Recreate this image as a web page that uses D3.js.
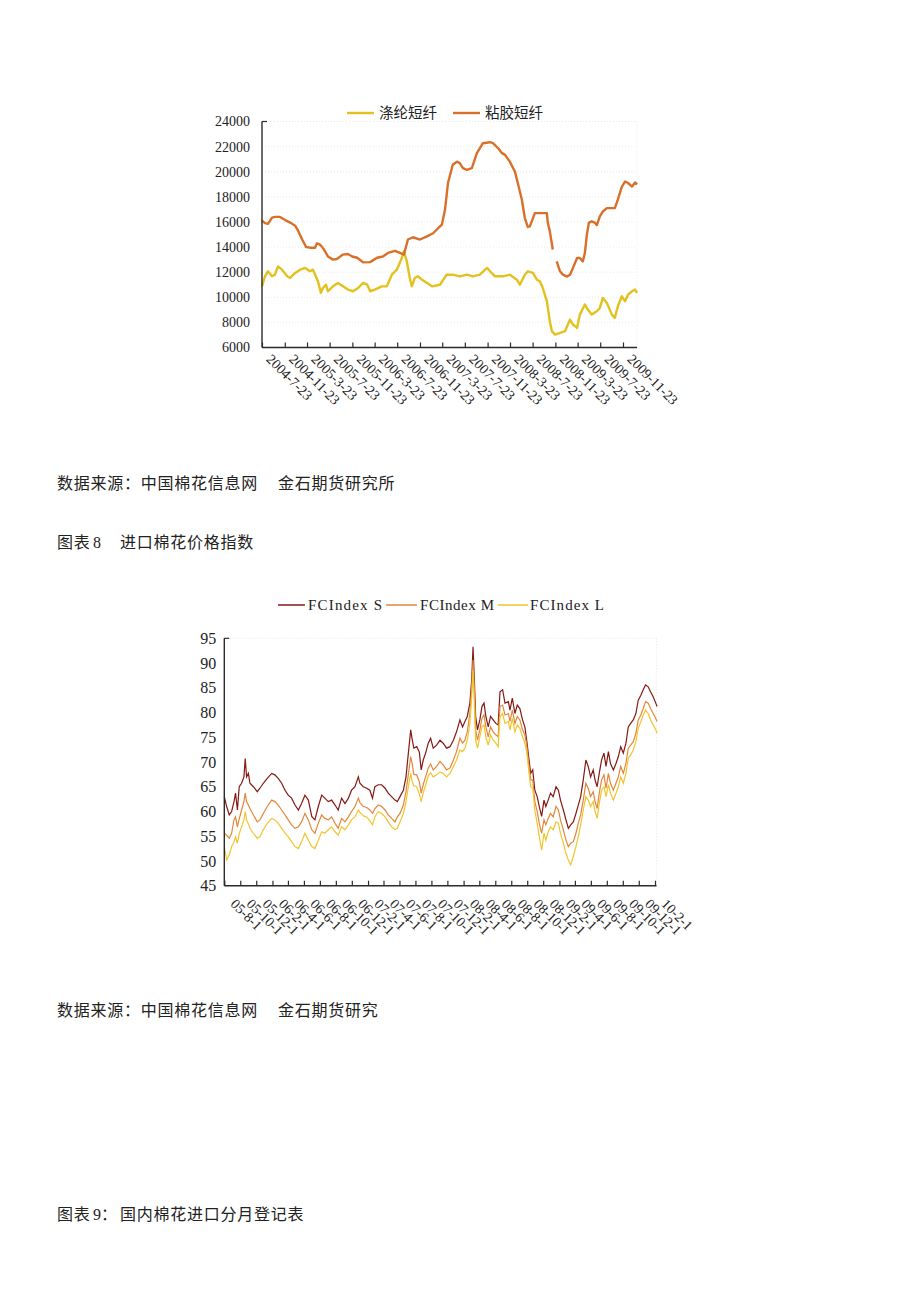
<!DOCTYPE html>
<html><head><meta charset="utf-8">
<script src="https://cdn.jsdelivr.net/npm/d3@7"></script>
<style>body{margin:0;background:#fff;} svg{display:block}</style>
</head><body>
<svg id="c" width="920" height="1302"></svg>
<script>
// ---------- Chart 1 data: 涤纶短纤 / 粘胶短纤 ----------
const fiberSeriesNames = ["涤纶短纤", "粘胶短纤"];
const fiberYTicks = [6000, 8000, 10000, 12000, 14000, 16000, 18000, 20000, 22000, 24000];
const fiberXTickLabels = ["2004-7-23","2004-11-23","2005-3-23","2005-7-23","2005-11-23","2006-3-23","2006-7-23","2006-11-23","2007-3-23","2007-7-23","2007-11-23","2008-3-23","2008-7-23","2008-11-23","2009-3-23","2009-7-23","2009-11-23"];
const polyester = [["2004-07-23",10870],["2004-08-08",11670],["2004-08-24",12070],["2004-09-15",11670],["2004-10-01",11800],["2004-10-17",12460],["2004-11-08",12200],["2004-12-06",11670],["2004-12-22",11540],["2005-01-18",11940],["2005-02-14",12200],["2005-03-13",12340],["2005-04-08",12070],["2005-04-24",12200],["2005-05-21",11270],["2005-06-06",10350],["2005-06-17",10740],["2005-07-03",11000],["2005-07-14",10480],["2005-08-10",10870],["2005-09-06",11140],["2005-10-03",10870],["2005-10-30",10610],["2005-11-27",10480],["2005-12-24",10740],["2006-01-20",11140],["2006-02-11",11000],["2006-02-27",10480],["2006-03-24",10610],["2006-05-01",10870],["2006-05-28",10870],["2006-06-24",11800],["2006-07-21",12200],["2006-08-17",13130],["2006-08-28",13660],["2006-09-13",12860],["2006-09-29",11540],["2006-10-10",10870],["2006-10-26",11540],["2006-11-11",11670],["2006-12-04",11400],["2006-12-31",11140],["2007-01-27",10870],["2007-03-11",11000],["2007-04-16",11800],["2007-05-19",11800],["2007-06-26",11670],["2007-08-03",11800],["2007-09-04",11670],["2007-10-12",11800],["2007-11-20",12340],["2007-12-06",12070],["2008-01-02",11670],["2008-02-14",11670],["2008-03-22",11800],["2008-04-29",11400],["2008-05-15",11000],["2008-06-11",11800],["2008-06-27",12070],["2008-07-25",11940],["2008-08-15",11400],["2008-08-31",11270],["2008-09-16",10740],["2008-10-08",9680],["2008-10-24",8090],["2008-11-04",7300],["2008-11-21",7030],["2008-12-18",7170],["2009-01-14",7300],["2009-02-10",8230],["2009-02-26",7830],["2009-03-20",7560],["2009-04-04",8620],["2009-05-01",9420],["2009-05-17",9020],["2009-06-07",8620],["2009-07-05",8890],["2009-07-21",9150],["2009-08-06",9950],["2009-08-28",9550],["2009-09-24",8620],["2009-10-10",8360],["2009-10-26",9280],["2009-11-17",10080],["2009-12-04",9680],["2009-12-20",10210],["2010-01-11",10480],["2010-01-27",10610],["2010-02-07",10350]];
const viscose = [["2004-07-23",16100],["2004-08-08",15900],["2004-08-24",15850],["2004-09-15",16350],["2004-10-01",16400],["2004-10-28",16400],["2004-11-25",16150],["2004-12-22",15950],["2005-01-18",15700],["2005-02-03",15300],["2005-02-25",14600],["2005-03-18",14000],["2005-04-08",13950],["2005-05-05",13950],["2005-05-16",14300],["2005-06-01",14200],["2005-06-23",13800],["2005-07-14",13250],["2005-08-10",13000],["2005-08-31",13050],["2005-10-03",13400],["2005-10-30",13450],["2005-11-22",13250],["2005-12-19",13150],["2006-01-20",12780],["2006-02-27",12800],["2006-04-05",13150],["2006-05-07",13250],["2006-06-03",13530],["2006-07-11",13700],["2006-08-07",13530],["2006-08-28",13400],["2006-09-08",14000],["2006-09-19",14600],["2006-10-16",14780],["2006-11-23",14600],["2006-12-31",14850],["2007-02-02",15100],["2007-03-01",15500],["2007-03-21",15780],["2007-04-07",16970],["2007-04-23",19100],["2007-05-19",20550],["2007-06-10",20800],["2007-06-26",20680],["2007-07-13",20280],["2007-08-03",20150],["2007-08-30",20280],["2007-09-26",21480],["2007-10-29",22270],["2007-12-06",22350],["2007-12-22",22270],["2008-01-18",21880],["2008-02-09",21480],["2008-02-25",21340],["2008-03-22",20800],["2008-04-18",20030],["2008-05-04",19100],["2008-05-26",17770],["2008-06-11",16310],["2008-06-27",15600],["2008-07-08",15650],["2008-07-25",16300],["2008-08-04",16700],["2008-10-08",16700],["2008-10-13",15930],["2008-10-24",15250],["2008-11-09",13800],["2008-11-20",null],["2008-11-30",12860],["2008-12-18",12070],["2009-01-03",11800],["2009-01-25",11650],["2009-02-10",11800],["2009-02-26",12340],["2009-03-20",13130],["2009-04-04",13130],["2009-04-20",12860],["2009-05-01",13500],["2009-05-12",15000],["2009-05-23",15950],["2009-06-07",16050],["2009-06-23",15950],["2009-07-05",15750],["2009-07-21",16440],["2009-08-06",16830],["2009-08-28",17100],["2009-10-10",17100],["2009-10-26",17770],["2009-11-17",18820],["2009-12-04",19220],["2009-12-20",19100],["2010-01-11",18820],["2010-01-27",19150],["2010-02-07",19000]];

// ---------- Chart 2 data: FCIndex ----------
const fcSeriesNames = ["FCIndex S", "FCIndex M", "FCIndex L"];
const fcYTicks = [45, 50, 55, 60, 65, 70, 75, 80, 85, 90, 95];
const fcXTickLabels = ["05-8-1","05-10-1","05-12-1","06-2-1","06-4-1","06-6-1","06-8-1","06-10-1","06-12-1","07-2-1","07-4-1","07-6-1","07-8-1","07-10-1","07-12-1","08-2-1","08-4-1","08-6-1","08-8-1","08-10-1","08-12-1","09-2-1","09-4-1","09-6-1","09-8-1","09-10-1","09-12-1","10-2-1"];
const fcDates = ["2005-08-01","2005-08-10","2005-08-20","2005-08-29","2005-09-07","2005-09-13","2005-09-20","2005-09-27","2005-10-06","2005-10-15","2005-10-20","2005-10-25","2005-11-01","2005-11-07","2005-11-20","2005-12-05","2005-12-15","2005-12-28","2006-01-12","2006-01-29","2006-02-10","2006-02-23","2006-03-08","2006-03-21","2006-04-02","2006-04-15","2006-04-28","2006-05-11","2006-05-23","2006-06-05","2006-06-18","2006-07-01","2006-07-13","2006-07-26","2006-08-08","2006-08-20","2006-09-02","2006-09-15","2006-09-28","2006-10-10","2006-10-23","2006-11-05","2006-11-18","2006-11-30","2006-12-13","2006-12-26","2007-01-01","2007-01-14","2007-01-27","2007-02-08","2007-02-18","2007-02-27","2007-03-12","2007-03-25","2007-04-07","2007-04-19","2007-05-02","2007-05-15","2007-05-24","2007-06-03","2007-06-16","2007-06-26","2007-07-05","2007-07-14","2007-07-20","2007-07-26","2007-08-06","2007-08-16","2007-08-23","2007-08-31","2007-09-10","2007-09-19","2007-09-28","2007-10-08","2007-10-21","2007-11-03","2007-11-15","2007-11-28","2007-12-11","2007-12-24","2008-01-05","2008-01-18","2008-01-28","2008-02-06","2008-02-15","2008-02-25","2008-03-03","2008-03-08","2008-03-13","2008-03-18","2008-03-25","2008-04-03","2008-04-11","2008-04-19","2008-04-26","2008-05-05","2008-05-14","2008-05-24","2008-06-03","2008-06-12","2008-06-19","2008-06-29","2008-07-08","2008-07-21","2008-07-27","2008-08-05","2008-08-15","2008-08-24","2008-09-03","2008-09-13","2008-09-22","2008-09-29","2008-10-08","2008-10-14","2008-10-22","2008-10-30","2008-11-08","2008-11-16","2008-11-25","2008-12-04","2008-12-11","2008-12-20","2008-12-29","2009-01-08","2009-01-19","2009-01-28","2009-02-05","2009-02-16","2009-02-26","2009-03-07","2009-03-16","2009-03-26","2009-04-05","2009-04-14","2009-04-23","2009-05-03","2009-05-13","2009-05-22","2009-05-31","2009-06-10","2009-06-17","2009-06-25","2009-07-03","2009-07-12","2009-07-21","2009-07-29","2009-08-07","2009-08-15","2009-08-26","2009-09-05","2009-09-14","2009-09-23","2009-10-03","2009-10-13","2009-10-22","2009-10-31","2009-11-10","2009-11-20","2009-11-29","2009-12-09","2009-12-18","2009-12-27","2010-01-06","2010-01-15","2010-01-25","2010-02-04","2010-02-09"];
const fcS = [63.0,61.0,59.3,60.0,62.0,63.7,60.3,65.0,65.7,67.0,70.7,67.0,67.7,65.7,65.0,64.0,64.7,65.7,66.7,67.7,67.4,66.7,65.7,64.3,63.3,62.7,61.3,60.3,61.6,63.3,62.3,59.0,58.3,61.0,63.3,62.7,62.0,62.3,61.3,60.3,62.7,61.6,62.7,64.3,65.0,67.0,65.7,65.0,64.7,64.3,62.7,65.0,65.4,65.4,64.7,63.7,63.0,62.3,62.0,63.0,64.3,67.0,71.8,76.5,74.4,72.8,73.1,72.0,68.4,70.4,72.0,73.8,74.8,72.8,73.4,74.4,73.8,72.8,73.1,74.4,76.1,78.5,77.1,78.2,79.2,81.9,86.6,93.3,86.6,79.2,76.5,78.5,81.2,81.9,79.2,77.1,79.2,78.5,77.8,77.5,84.2,84.6,81.9,82.2,80.5,82.9,79.8,81.5,80.8,78.5,77.1,74.4,70.4,67.7,68.4,64.3,63.0,61.0,59.0,62.3,61.0,62.3,63.7,63.0,65.0,64.3,62.3,60.3,58.3,56.6,57.3,57.9,59.6,61.3,63.0,66.4,70.4,69.1,67.0,68.4,66.4,65.0,67.7,70.4,71.8,69.1,72.1,69.7,68.4,69.7,71.1,73.1,71.8,73.8,77.1,77.8,78.5,79.8,82.5,83.5,84.6,85.6,85.2,84.2,83.2,81.9,81.2];
const fcM = [55.6,55.2,54.6,55.6,58.3,58.9,56.9,58.5,60.3,62.0,63.7,62.0,61.3,60.6,59.3,57.9,58.3,59.6,61.0,62.3,62.0,61.3,60.3,59.3,58.3,57.3,56.6,56.9,57.9,59.6,58.3,56.3,55.6,57.6,59.3,58.6,58.3,58.9,57.6,56.6,58.6,57.9,58.9,60.0,61.0,62.7,61.8,61.0,60.8,60.3,59.6,60.6,61.3,61.0,60.3,59.3,58.6,57.9,58.9,59.6,61.3,64.0,67.5,71.1,69.5,67.5,67.4,66.0,63.7,65.5,67.2,68.8,69.6,68.4,69.1,70.1,69.4,68.4,68.8,70.4,72.1,74.8,73.8,74.4,76.1,79.8,85.2,90.6,84.6,76.5,74.4,76.5,78.8,79.5,77.1,75.1,77.1,76.1,75.5,75.1,81.2,81.5,79.5,79.8,78.2,80.5,77.8,79.2,78.5,76.5,75.5,73.4,69.1,66.4,66.4,62.0,60.0,57.6,55.6,58.3,57.3,58.6,59.6,58.9,61.0,60.3,58.3,56.3,54.2,52.9,53.6,53.9,55.6,57.6,59.3,62.3,65.7,64.7,63.0,64.0,62.0,60.6,63.7,66.4,67.4,64.7,67.7,65.7,64.3,65.7,67.0,69.1,67.7,69.7,72.8,73.4,74.1,75.8,78.5,79.5,80.8,82.2,81.9,80.8,79.8,78.8,78.2];
const fcL = [52.9,50.2,51.2,52.9,53.9,54.9,53.6,55.5,56.9,58.3,60.0,58.3,57.5,56.6,55.6,54.6,54.9,56.3,57.6,58.6,58.3,57.6,56.6,55.6,54.9,53.9,52.9,52.5,53.9,55.6,54.2,52.9,52.5,54.2,55.9,55.6,56.3,56.9,55.9,55.2,56.9,56.3,57.3,58.3,58.9,60.3,59.8,59.1,58.9,58.1,57.3,58.9,60.0,59.6,58.9,57.9,56.9,56.3,56.6,57.9,59.6,62.0,65.0,67.7,66.0,65.2,65.0,63.5,62.0,63.8,65.5,67.2,67.8,67.0,67.4,68.0,67.7,67.0,67.7,69.1,70.4,72.4,72.1,72.8,74.4,77.8,83.2,88.6,81.9,74.4,72.8,75.1,77.1,77.5,75.1,73.4,75.5,74.4,73.8,73.1,79.2,79.8,77.8,78.2,76.5,78.8,76.1,77.5,76.8,75.1,73.8,72.1,67.7,65.0,64.7,60.3,57.6,54.9,52.2,55.6,54.2,55.9,56.9,56.3,57.9,57.6,55.6,53.6,51.5,50.2,49.2,50.9,52.9,54.9,57.3,60.3,63.0,62.3,61.0,62.0,60.0,58.6,61.6,64.3,65.0,63.0,65.4,63.7,62.3,63.7,65.0,67.0,65.7,67.7,70.8,71.4,72.4,74.1,76.8,78.2,79.5,80.5,79.8,78.5,77.5,76.5,75.8];

// ---------- helpers ----------
const parseFull = s => { const [y, m, d] = s.split("-").map(Number); return new Date(y, m - 1, d); };
const parseShort = s => { const [y, m, d] = s.split("-").map(Number); return new Date(2000 + y, m - 1, d); };
const serif = "'Liberation Serif','DejaVu Serif',serif";
const cjk = "'Noto Sans CJK SC','Noto Sans',sans-serif";
const axisColor = "#2b2b2b";
const gridColor = "#e2e2e2";

const svg = d3.select("#c");
svg.append("rect").attr("width", 920).attr("height", 1302).attr("fill", "#fff");

// =============== Chart 1 ===============
(function () {
  const left = 262, right = 637, top = 121.5, bottom = 347.5;
  const x = d3.scaleTime().domain([parseFull("2004-07-23"), parseFull("2009-11-23")]).range([left, 623]);
  const y = d3.scaleLinear().domain([6000, 24000]).range([bottom, top]);
  const g = svg.append("g");

  g.selectAll("line.grid").data(fiberYTicks.filter(v => v > 6000)).join("line")
    .attr("x1", left).attr("x2", right).attr("y1", d => y(d)).attr("y2", d => y(d))
    .attr("stroke", gridColor).attr("stroke-width", 0.8).attr("stroke-dasharray", "1,2");
  g.append("line").attr("x1", right).attr("x2", right).attr("y1", top).attr("y2", bottom)
    .attr("stroke", gridColor).attr("stroke-width", 0.8).attr("stroke-dasharray", "1,2");

  const colors = ["#E3C11E", "#D9702A"];
  const seriesData = [polyester, viscose];
  seriesData.forEach((s, i) => {
    const line = d3.line().defined(d => d[1] !== null)
      .x(d => x(parseFull(d[0]))).y(d => y(d[1]));
    g.append("path").attr("d", line(s)).attr("fill", "none")
      .attr("stroke", colors[i]).attr("stroke-width", 2.4).attr("stroke-linejoin", "round");
  });

  const ya = g.append("g").attr("transform", `translate(${left},0)`)
    .call(d3.axisLeft(y).tickValues(fiberYTicks).tickSize(0).tickPadding(12).tickFormat(d3.format("d")));
  ya.select(".domain").remove();
  ya.selectAll("text").attr("font-family", serif).attr("font-size", 14).attr("fill", "#222");

  const tickDates = fiberXTickLabels.map(parseFull);
  const xa = g.append("g").attr("transform", `translate(0,${bottom})`)
    .call(d3.axisBottom(x).tickValues(tickDates).tickSize(-5).tickSizeOuter(0)
      .tickFormat((d, i) => fiberXTickLabels[i]));
  xa.select(".domain").remove();
  xa.selectAll(".tick line").attr("stroke", axisColor).attr("stroke-width", 1.2);
  xa.selectAll("text").attr("font-family", serif).attr("font-size", 14).attr("fill", "#222")
    .attr("text-anchor", "start").attr("x", 0).attr("y", 0).attr("dy", 0)
    .attr("transform", "translate(3,12.5) rotate(45)");

  g.append("line").attr("x1", left).attr("x2", left).attr("y1", top).attr("y2", bottom)
    .attr("stroke", axisColor).attr("stroke-width", 1.4);
  g.append("line").attr("x1", left).attr("x2", left + 5).attr("y1", top).attr("y2", top)
    .attr("stroke", axisColor).attr("stroke-width", 1.2);
  g.append("line").attr("x1", left).attr("x2", right).attr("y1", bottom).attr("y2", bottom)
    .attr("stroke", axisColor).attr("stroke-width", 1.4);

  const leg = [{x: 347, tx: 379}, {x: 453, tx: 485}];
  leg.forEach((p, i) => {
    g.append("line").attr("x1", p.x).attr("x2", p.x + 27).attr("y1", 113).attr("y2", 113)
      .attr("stroke", colors[i]).attr("stroke-width", 2.4);
    g.append("text").attr("x", p.tx).attr("y", 118).attr("font-family", cjk).attr("font-size", 14.5)
      .attr("fill", "#222").text(fiberSeriesNames[i]);
  });
})();

// =============== Chart 2 ===============
(function () {
  const left = 224.3, right = 656.5, top = 638.3, bottom = 885.7;
  const tickDates = fcXTickLabels.map(parseShort);
  const x = d3.scaleTime().domain([tickDates[0], tickDates[tickDates.length - 1]]).range([left, 655]);
  const y = d3.scaleLinear().domain([45, 95]).range([bottom, top]);
  const g = svg.append("g");

  g.append("line").attr("x1", left).attr("x2", right).attr("y1", top).attr("y2", top)
    .attr("stroke", gridColor).attr("stroke-width", 0.8).attr("stroke-dasharray", "1,2");
  g.append("line").attr("x1", right).attr("x2", right).attr("y1", top).attr("y2", bottom)
    .attr("stroke", gridColor).attr("stroke-width", 0.8).attr("stroke-dasharray", "1,2");

  const colors = ["#851914", "#E3873C", "#F2C52C"];
  const seriesVals = [fcS, fcM, fcL];
  const dates = fcDates.map(parseFull);
  seriesVals.forEach((vals, i) => {
    const line = d3.line().x((d, j) => x(dates[j])).y(d => y(d));
    g.append("path").attr("d", line(vals)).attr("fill", "none")
      .attr("stroke", colors[i]).attr("stroke-width", 1.2).attr("stroke-linejoin", "miter");
  });

  const ya = g.append("g").attr("transform", `translate(${left},0)`)
    .call(d3.axisLeft(y).tickValues(fcYTicks).tickSize(0).tickPadding(8).tickFormat(d3.format("d")));
  ya.select(".domain").remove();
  ya.selectAll("text").attr("font-family", serif).attr("font-size", 16).attr("fill", "#222");

  const xa = g.append("g").attr("transform", `translate(0,${bottom})`)
    .call(d3.axisBottom(x).tickValues(tickDates).tickSize(-5).tickSizeOuter(0)
      .tickFormat((d, i) => fcXTickLabels[i]));
  xa.select(".domain").remove();
  xa.selectAll(".tick line").attr("stroke", axisColor).attr("stroke-width", 1.2);
  xa.selectAll("text").attr("font-family", serif).attr("font-size", 14).attr("fill", "#222")
    .attr("text-anchor", "start").attr("x", 0).attr("y", 0).attr("dy", 0)
    .attr("transform", "translate(5,19) rotate(45)");

  g.append("line").attr("x1", left).attr("x2", left).attr("y1", top).attr("y2", bottom)
    .attr("stroke", axisColor).attr("stroke-width", 1.4);
  g.append("line").attr("x1", left).attr("x2", left + 5).attr("y1", top).attr("y2", top)
    .attr("stroke", axisColor).attr("stroke-width", 1.2);
  g.append("line").attr("x1", left).attr("x2", right).attr("y1", bottom).attr("y2", bottom)
    .attr("stroke", axisColor).attr("stroke-width", 1.4);

  const leg = [{x: 278, tx: 308, w: 27}, {x: 386, tx: 420, w: 31}, {x: 498, tx: 530, w: 30}];
  leg.forEach((p, i) => {
    g.append("line").attr("x1", p.x).attr("x2", p.x + p.w).attr("y1", 605).attr("y2", 605)
      .attr("stroke", colors[i]).attr("stroke-width", 1.5);
    g.append("text").attr("x", p.tx).attr("y", 610).attr("font-family", serif).attr("font-size", 15)
      .attr("fill", "#222").attr("textLength", 74).attr("lengthAdjust", "spacing").text(fcSeriesNames[i]);
  });
})();

// =============== Body text ===============
const body = svg.append("g").attr("font-family", cjk).attr("font-size", 16).attr("fill", "#222");
const txt = (x, y, s, fam) => body.append("text").attr("x", x).attr("y", y)
  .attr("letter-spacing", fam ? 0 : 0.75).attr("font-family", fam || null).text(s);
txt(57, 488.5, "数据来源：中国棉花信息网");
txt(278, 488.5, "金石期货研究所");
txt(57, 547.5, "图表");
txt(93, 547.5, "8", serif);
txt(120, 547.5, "进口棉花价格指数");
txt(57, 1015.5, "数据来源：中国棉花信息网");
txt(278, 1015.5, "金石期货研究");
txt(57, 1219.5, "图表");
txt(93, 1219.5, "9", serif);
txt(101, 1219.5, "：");
txt(120, 1219.5, "国内棉花进口分月登记表");
</script>
</body></html>
